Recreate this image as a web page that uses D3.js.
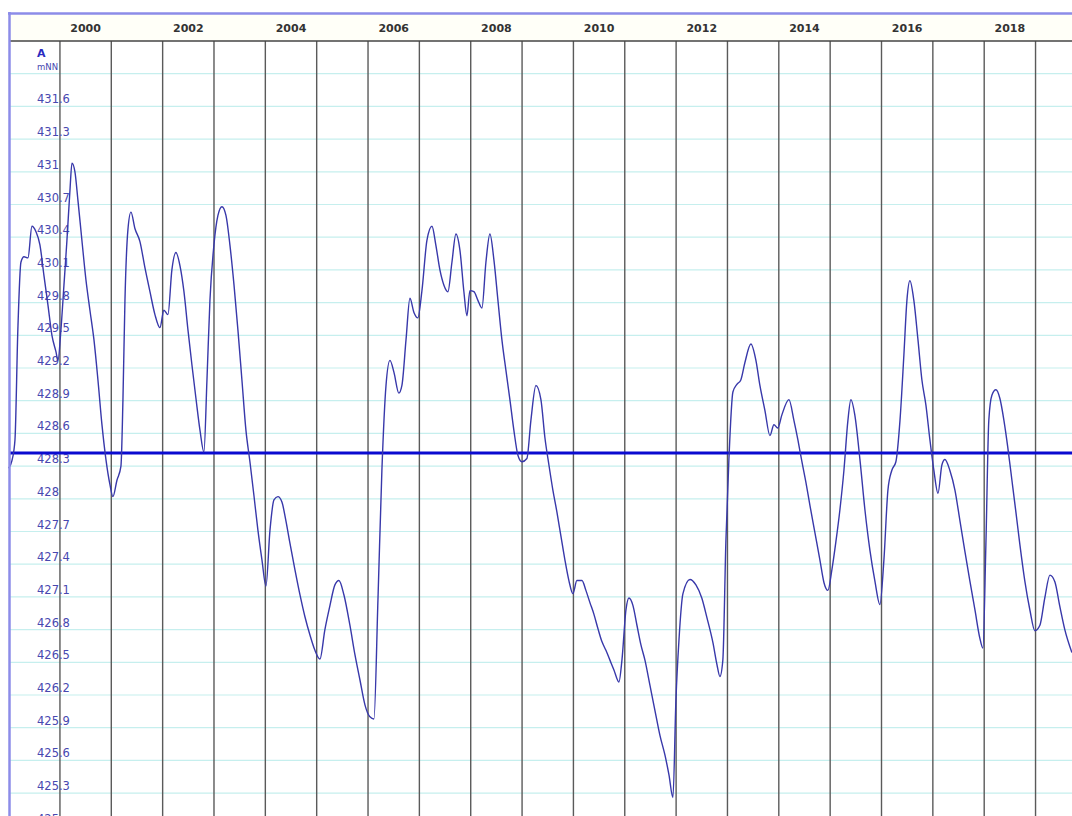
<!DOCTYPE html>
<html>
<head>
<meta charset="utf-8">
<script src="https://cdn.jsdelivr.net/npm/d3@7"></script>
<style>
  body { margin: 0; background: #fff; }
  svg { display: block; }
</style>
</head>
<body>
<div id="chart"></div>
<script>
// groundwater level, decimal years and m NN
const years = [
  1999.0, 1999.065, 1999.124, 1999.18, 1999.24, 1999.30, 1999.377, 1999.455, 1999.533, 1999.61,
  1999.688, 1999.766, 1999.844, 1999.922, 1999.961, 2000.019, 2000.078, 2000.136, 2000.195, 2000.234,
  2000.292, 2000.35, 2000.428, 2000.506, 2000.584, 2000.662, 2000.74, 2000.818, 2000.896, 2000.974,
  2001.032, 2001.11, 2001.188, 2001.227, 2001.266, 2001.324, 2001.383, 2001.46, 2001.558, 2001.655,
  2001.753, 2001.85, 2001.947, 2002.025, 2002.103, 2002.18, 2002.259, 2002.337, 2002.415, 2002.493,
  2002.57, 2002.649, 2002.727, 2002.804, 2002.863, 2002.921, 2002.999, 2003.077, 2003.155, 2003.233,
  2003.31, 2003.39, 2003.466, 2003.544, 2003.622, 2003.70, 2003.778, 2003.856, 2003.934, 2004.012,
  2004.09, 2004.168, 2004.245, 2004.323, 2004.40, 2004.48, 2004.576, 2004.674, 2004.77, 2004.869,
  2004.966, 2005.063, 2005.16, 2005.258, 2005.355, 2005.433, 2005.53, 2005.647, 2005.745, 2005.842,
  2005.94, 2006.037, 2006.115, 2006.193, 2006.27, 2006.35, 2006.427, 2006.505, 2006.60, 2006.66,
  2006.74, 2006.816, 2006.894, 2006.97, 2007.05, 2007.147, 2007.245, 2007.32, 2007.40, 2007.478,
  2007.556, 2007.634, 2007.712, 2007.79, 2007.867, 2007.926, 2007.984, 2008.062, 2008.14, 2008.218,
  2008.296, 2008.374, 2008.452, 2008.53, 2008.607, 2008.685, 2008.763, 2008.84, 2008.919, 2008.997,
  2009.094, 2009.172, 2009.27, 2009.367, 2009.445, 2009.523, 2009.60, 2009.678, 2009.756, 2009.834,
  2009.912, 2009.99, 2010.068, 2010.166, 2010.243, 2010.32, 2010.40, 2010.477, 2010.555, 2010.633,
  2010.711, 2010.789, 2010.886, 2010.945, 2011.023, 2011.081, 2011.16, 2011.237, 2011.315, 2011.393,
  2011.49, 2011.587, 2011.685, 2011.782, 2011.86, 2011.938, 2011.996, 2012.055, 2012.133, 2012.27,
  2012.386, 2012.50, 2012.60, 2012.717, 2012.795, 2012.853, 2012.91, 2012.97, 2013.028, 2013.106,
  2013.184, 2013.26, 2013.34, 2013.457, 2013.554, 2013.632, 2013.73, 2013.827, 2013.905, 2013.98,
  2014.06, 2014.197, 2014.294, 2014.372, 2014.45, 2014.528, 2014.606, 2014.703, 2014.80, 2014.88,
  2014.956, 2015.034, 2015.11, 2015.19, 2015.268, 2015.346, 2015.404, 2015.48, 2015.58, 2015.677,
  2015.774, 2015.87, 2015.969, 2016.047, 2016.125, 2016.20, 2016.28, 2016.36, 2016.436, 2016.495,
  2016.553, 2016.63, 2016.71, 2016.787, 2016.865, 2016.943, 2017.02, 2017.10, 2017.176, 2017.235,
  2017.332, 2017.43, 2017.527, 2017.62, 2017.72, 2017.82, 2017.916, 2017.975, 2018.033, 2018.09,
  2018.15, 2018.228, 2018.306, 2018.384, 2018.46, 2018.54, 2018.617, 2018.695, 2018.79, 2018.89,
  2018.987, 2019.085, 2019.18, 2019.28, 2019.376, 2019.47, 2019.57, 2019.708
]
const levels = [
  428.28, 428.35, 428.54, 429.55, 430.17, 430.22, 430.21, 430.50, 430.45, 430.33,
  430.05, 429.78, 429.50, 429.35, 429.27, 429.55, 429.96, 430.37, 430.83, 431.08,
  431.00, 430.74, 430.37, 430.01, 429.73, 429.46, 429.09, 428.68, 428.36, 428.13,
  428.02, 428.17, 428.30, 428.91, 429.82, 430.47, 430.63, 430.48, 430.36, 430.12,
  429.90, 429.69, 429.57, 429.73, 429.69, 430.10, 430.26, 430.14, 429.90, 429.55,
  429.23, 428.92, 428.63, 428.43, 429.09, 429.82, 430.33, 430.60, 430.68, 430.60,
  430.33, 429.96, 429.55, 429.09, 428.63, 428.34, 428.03, 427.71, 427.44, 427.20,
  427.71, 427.99, 428.02, 427.97, 427.80, 427.59, 427.35, 427.12, 426.92, 426.75,
  426.61, 426.53, 426.80, 427.02, 427.21, 427.25, 427.12, 426.84, 426.57, 426.34,
  426.11, 426.00, 425.98, 427.07, 428.26, 429.04, 429.27, 429.16, 428.97, 429.04,
  429.46, 429.84, 429.71, 429.66, 429.91, 430.37, 430.50, 430.33, 430.10, 429.96,
  429.90, 430.17, 430.43, 430.28, 429.90, 429.68, 429.91, 429.90, 429.82, 429.75,
  430.17, 430.43, 430.19, 429.82, 429.46, 429.18, 428.91, 428.63, 428.40, 428.34,
  428.37, 428.72, 429.04, 428.91, 428.56, 428.31, 428.08, 427.88, 427.66, 427.44,
  427.25, 427.13, 427.25, 427.25, 427.16, 427.05, 426.94, 426.81, 426.69, 426.61,
  426.52, 426.43, 426.32, 426.52, 426.98, 427.09, 427.02, 426.84, 426.66, 426.52,
  426.29, 426.06, 425.83, 425.65, 425.47, 425.26, 426.15, 426.70, 427.13, 427.26,
  427.21, 427.09, 426.91, 426.68, 426.48, 426.37, 426.52, 427.62, 428.36, 428.98,
  429.05, 429.09, 429.25, 429.42, 429.27, 429.04, 428.81, 428.58, 428.68, 428.65,
  428.77, 428.91, 428.72, 428.54, 428.34, 428.15, 427.94, 427.69, 427.44, 427.23,
  427.16, 427.35, 427.60, 427.90, 428.26, 428.72, 428.91, 428.77, 428.36, 427.90,
  427.53, 427.25, 427.03, 427.44, 428.08, 428.26, 428.34, 428.72, 429.32, 429.82,
  430.00, 429.82, 429.46, 429.09, 428.86, 428.54, 428.26, 428.05, 428.31, 428.36,
  428.26, 428.08, 427.80, 427.53, 427.25, 426.98, 426.72, 426.63, 427.58, 428.72,
  428.95, 429.00, 428.92, 428.72, 428.47, 428.17, 427.88, 427.58, 427.25, 426.98,
  426.79, 426.84, 427.09, 427.30, 427.24, 427.02, 426.80, 426.59
]
const yearLabels = [2000, 2002, 2004, 2006, 2008, 2010, 2012, 2014, 2016, 2018]
const yearLines = d3.range(2000, 2020)
const levelTicks = d3.range(0, 24).map(function(i) { return +(425.0 + i * 0.3).toFixed(1) })
const meanLevel = 428.42
const unitTop = "A"
const unitBottom = "mNN"

const width = 1072
const height = 816
const frameLeft = 9, frameTop = 14, axisY = 41

const svg = d3.select('#chart')
  .append("svg")
  .attr("width", width)
  .attr("height", height)

var x = d3.scaleLinear()
  .domain([1999, 2019.71])
  .range([8.6, width])

var y = d3.scaleLinear()
  .domain([425.09, 432.2])
  .range([height, axisY])

// header band
svg.append("rect")
  .attr("x", frameLeft).attr("y", frameTop)
  .attr("width", width - frameLeft).attr("height", axisY - frameTop)
  .attr("fill", "#fffff8")

// horizontal grid
svg.append("g")
  .selectAll("line")
  .data(levelTicks)
  .enter()
  .append("line")
    .attr("x1", frameLeft).attr("x2", width)
    .attr("y1", function(d) { return y(d) })
    .attr("y2", function(d) { return y(d) })
    .attr("stroke", "#c6efee")
    .attr("stroke-width", 1.2)

// year lines
svg.append("g")
  .selectAll("line")
  .data(yearLines)
  .enter()
  .append("line")
    .attr("x1", function(d) { return x(d) })
    .attr("x2", function(d) { return x(d) })
    .attr("y1", axisY).attr("y2", height)
    .attr("stroke", "#5a5a5a")
    .attr("stroke-width", 1.4)

// level labels (sit on their grid line)
svg.append("g")
  .selectAll("text")
  .data(levelTicks.filter(function(d) { return d < 431.8 }))
  .enter()
  .append("text")
    .attr("x", 37)
    .attr("y", function(d) { return y(d) - 3 })
    .attr("font-family", "DejaVu Sans, sans-serif")
    .attr("font-size", 11.5)
    .attr("fill", "#4848b0")
    .text(function(d) { return String(d) })

svg.append("text")
  .attr("x", 37).attr("y", 57)
  .attr("font-family", "DejaVu Sans, sans-serif")
  .attr("font-size", 11)
  .attr("font-weight", "bold")
  .attr("fill", "#2a2ac0")
  .text(unitTop)

svg.append("text")
  .attr("x", 37).attr("y", 70)
  .attr("font-family", "DejaVu Sans, sans-serif")
  .attr("font-size", 8.5)
  .attr("fill", "#4848b0")
  .text(unitBottom)

// mean level line
svg.append("line")
  .attr("x1", frameLeft).attr("x2", width)
  .attr("y1", y(meanLevel)).attr("y2", y(meanLevel))
  .attr("stroke", "#0a0ad0")
  .attr("stroke-width", 3)

// the series
svg.append("path")
  .datum(d3.zip(years, levels))
  .attr("fill", "none")
  .attr("stroke", "#3838aa")
  .attr("stroke-width", 1.4)
  .attr("d", d3.line()
    .curve(d3.curveMonotoneX)
    .x(function(d) { return x(d[0]) })
    .y(function(d) { return y(d[1]) })
  )

// top axis line and year labels
svg.append("line")
  .attr("x1", frameLeft).attr("x2", width)
  .attr("y1", axisY).attr("y2", axisY)
  .attr("stroke", "#444")
  .attr("stroke-width", 1.6)

svg.append("g")
  .selectAll("text")
  .data(yearLabels)
  .enter()
  .append("text")
    .attr("x", function(d) { return x(d + 0.5) })
    .attr("y", 32)
    .attr("text-anchor", "middle")
    .attr("font-family", "DejaVu Sans, sans-serif")
    .attr("font-size", 11)
    .attr("font-weight", "bold")
    .attr("fill", "#333")
    .text(function(d) { return d })

// frame
svg.append("line")
  .attr("x1", 8).attr("x2", width)
  .attr("y1", 13.5).attr("y2", 13.5)
  .attr("stroke", "#8c8ce8")
  .attr("stroke-width", 2.5)

svg.append("line")
  .attr("x1", 9.5).attr("x2", 9.5)
  .attr("y1", 12).attr("y2", height)
  .attr("stroke", "#8c8ce8")
  .attr("stroke-width", 2.5)
</script>
</body>
</html>
